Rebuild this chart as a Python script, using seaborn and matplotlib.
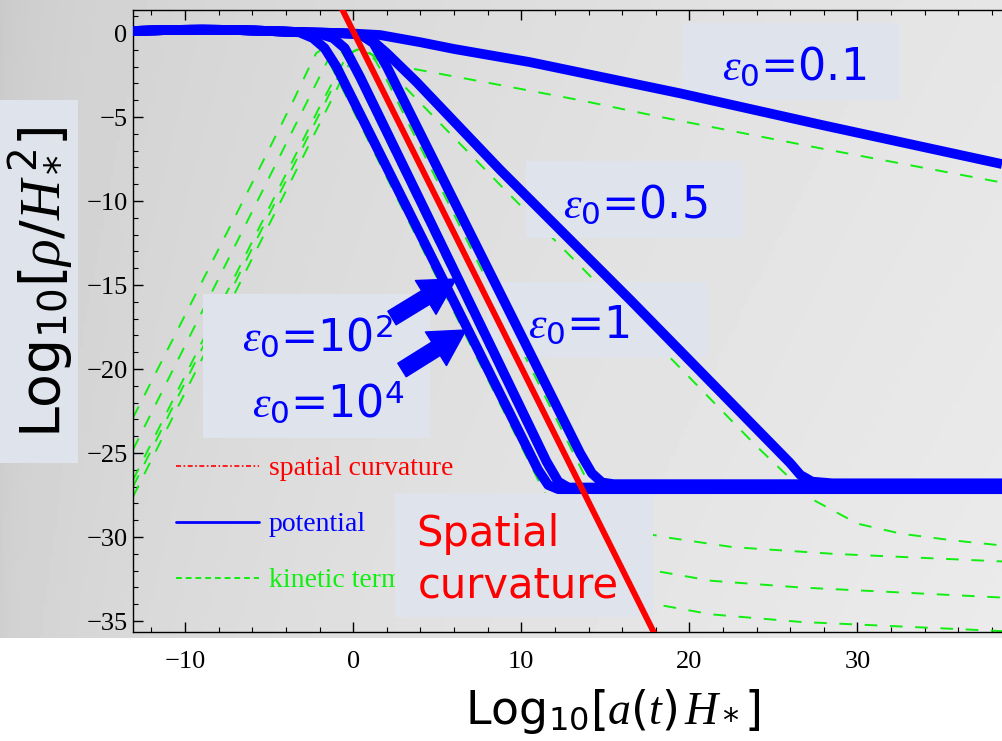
import numpy as np
import pandas as pd
import matplotlib
matplotlib.use("Agg")
import matplotlib.pyplot as plt
import seaborn as sns
from matplotlib.patches import Rectangle
from matplotlib.lines import Line2D
from matplotlib.ticker import MultipleLocator

# ---------------- data ----------------
# potential energy curves, Log10[rho/H*^2] vs Log10[a(t) H*]
POT_01_X = [-13.1, -11, -9, -7, -5, -3, -1, 0, 1.6, 4, 6, 10.5, 19.5, 28, 38.6]
POT_01_Y = [0.12, 0.18, 0.2, 0.18, 0.12, 0.05, 0.0, -0.03, -0.12, -0.55, -0.95, -1.73, -3.6, -5.5, -7.8]

POT_05_X = [-13.1, -11, -9, -7, -5, -3, -1, 0, 0.5, 1.2, 2, 3.75, 8.75, 16.5, 26.0, 26.6, 27.3, 28.5, 38.6]
POT_05_Y = [0.12, 0.18, 0.2, 0.18, 0.12, 0.05, 0.0, -0.05, -0.15, -0.5, -1.2, -2.9, -8.15, -15.9, -25.6, -26.3, -26.7, -26.8, -26.8]

POT_1_X = [-13.1, -11, -9, -7, -5, -3, -1, 0, 0.6, 1.2, 2, 3, 6, 10, 13.5, 14.2, 14.8, 15.5, 38.6]
POT_1_Y = [0.12, 0.18, 0.2, 0.18, 0.12, 0.05, 0.0, -0.05, -0.2, -0.6, -2.0, -4.0, -10, -18, -25, -26.2, -26.75, -26.85, -26.85]

POT_1E2_X = [-13.1, -11, -9, -7, -5, -3, -2, -1.2, -0.5, 0.4, 4, 8.3, 11.5, 12.2, 12.8, 38.6]
POT_1E2_Y = [0.12, 0.18, 0.2, 0.18, 0.12, 0.05, -0.05, -0.3, -0.9, -2.6, -10, -18.87, -25.5, -26.7, -27.05, -27.05]

POT_1E4_X = [-13.1, -11, -9, -7, -5, -3.2, -2.4, -1.7, -1, 0, 4, 8, 11, 11.6, 12.2, 38.6]
POT_1E4_Y = [0.12, 0.18, 0.2, 0.18, 0.12, 0.04, -0.3, -0.9, -2.0, -4, -12, -20, -26, -26.9, -27.15, -27.15]

# kinetic term curves
KIN_1E4_X = [-13.1, -6, -3.5, -2.6, -2.2, -1.9, -1.6, -1.2, 0, 5, 10, 11.3, 12.5, 13.5, 15, 18, 21.3, 26.6, 36.5, 38.6]
KIN_1E4_Y = [-22.9, -8.9, -3.9, -2.0, -1.2, -1.0, -1.4, -2.2, -4.6, -14.6, -24.6, -27.2, -29.8, -31.6, -33.2, -34.0, -34.6, -35.05, -35.5, -35.6]

KIN_1E2_X = [-13.1, -5, -2.5, -1.7, -1.3, -1.0, -0.7, -0.3, 0.5, 5, 10, 12.2, 13.5, 15, 17.9, 21.3, 26.6, 38.6]
KIN_1E2_Y = [-24.8, -8.6, -3.6, -2.0, -1.2, -0.95, -1.1, -1.7, -3.3, -12.6, -22.9, -27.4, -30.0, -31.4, -32.0, -32.6, -33.0, -33.6]

KIN_1_X = [-13.1, -5, -2, -1, -0.5, 0, 0.4, 0.8, 1.3, 2, 5, 10, 13.8, 15, 16.5, 18.5, 22.6, 28.6, 38.6]
KIN_1_Y = [-26.6, -10.4, -4.4, -2.5, -1.6, -1.1, -0.95, -1.1, -1.6, -2.8, -8.8, -18.8, -26.4, -28.6, -29.6, -30.0, -30.6, -31.0, -31.45]

KIN_05_X = [-13.1, -5, -2, -1, -0.4, 0, 0.4, 0.9, 2, 5, 8.75, 16.5, 24, 26.2, 27.4, 30, 32.6, 35.7, 38.6]
KIN_05_Y = [-27.0, -10.8, -4.8, -2.8, -1.7, -1.1, -0.9, -1.1, -2.1, -5.2, -9.05, -16.9, -24.6, -26.7, -27.8, -29.2, -29.8, -30.2, -30.5]

KIN_01_X = [-13.1, -5, -2, -1, -0.4, 0, 0.4, 0.9, 2, 3.4, 8.5, 13.5, 18.3, 28, 38.6]
KIN_01_Y = [-27.6, -11.4, -5.4, -3.4, -2.1, -1.5, -1.2, -1.2, -1.6, -2.1, -3.05, -4.0, -5.0, -6.9, -8.9]

# spatial curvature (slope -2)
CURV_X = [-1.0, 18.5]
CURV_Y = [2.1, -36.9]

X_TICKS = [-10, 0, 10, 20, 30]
Y_TICKS = [0, -5, -10, -15, -20, -25, -30, -35]
X_LIM = (-13.1, 38.6)
Y_LIM = (-35.65, 1.37)

LEGEND_LABELS = ["spatial curvature", "potential", "kinetic term"]

# ---------------- style ----------------
sns.set_theme(style="white")
plt.rcParams["font.family"] = ["DejaVu Sans"]
plt.rcParams["mathtext.fontset"] = "custom"
plt.rcParams["mathtext.rm"] = "DejaVu Sans"
plt.rcParams["mathtext.it"] = "Liberation Serif:italic"
plt.rcParams["mathtext.bf"] = "DejaVu Sans:bold"
plt.rcParams["axes.unicode_minus"] = True

W, H = 1002, 741
fig = plt.figure(figsize=(W / 100, H / 100), dpi=100)
fig.patch.set_facecolor("white")


def fx(px):
    return px / W


def fy(py):
    return 1 - py / H


# gray slide background with soft gradient
bg = fig.add_axes([0, fy(638), 1, 638 / H], zorder=-10)
uu, ww = np.meshgrid(np.linspace(0, 1, 300), np.linspace(1, 0, 200))
grad = 0.79 + 0.11 * np.sqrt(uu) + 0.02 * (1 - ww)
bg.imshow(grad, cmap="gray", vmin=0, vmax=1, aspect="auto", extent=[0, 1, 0, 1])
bg.axis("off")

ax = fig.add_axes([fx(133), fy(632), (W - 133) / W, (632 - 10) / H])
ax.patch.set_alpha(0)


def frame(xs, ys, name):
    return pd.DataFrame({"x": xs, "y": ys, "curve": name})


pot = pd.concat([
    frame(POT_01_X, POT_01_Y, "0.1"),
    frame(POT_05_X, POT_05_Y, "0.5"),
    frame(POT_1_X, POT_1_Y, "1"),
    frame(POT_1E2_X, POT_1E2_Y, "1e2"),
    frame(POT_1E4_X, POT_1E4_Y, "1e4"),
])
kin = pd.concat([
    frame(KIN_01_X, KIN_01_Y, "0.1"),
    frame(KIN_05_X, KIN_05_Y, "0.5"),
    frame(KIN_1_X, KIN_1_Y, "1"),
    frame(KIN_1E2_X, KIN_1E2_Y, "1e2"),
    frame(KIN_1E4_X, KIN_1E4_Y, "1e4"),
])
curv = frame(CURV_X, CURV_Y, "curv")

sns.lineplot(data=kin, x="x", y="y", units="curve", estimator=None, sort=False,
             color="#11ee11", lw=1.4, linestyle=(0, (6.5, 6.5)), ax=ax,
             legend=False, zorder=2)
sns.lineplot(data=pot, x="x", y="y", units="curve", estimator=None, sort=False,
             color="#0000ff", lw=7, ax=ax, legend=False, zorder=4,
             solid_joinstyle="round", solid_capstyle="butt")
sns.lineplot(data=curv, x="x", y="y", color="#ff0000", lw=4.3, ax=ax,
             legend=False, zorder=5, solid_capstyle="butt")

ax.set_xlim(*X_LIM)
ax.set_ylim(*Y_LIM)
ax.set_xticks(X_TICKS)
ax.set_yticks(Y_TICKS)
ax.xaxis.set_minor_locator(MultipleLocator(2))
ax.yaxis.set_minor_locator(MultipleLocator(1))
ax.tick_params(which="both", direction="in", top=True, bottom=True, left=True,
               right=False, color="black", labelcolor="black",
               labelfontfamily="Liberation Serif")
ax.tick_params(which="major", length=7, width=1)
ax.tick_params(which="minor", length=3.5, width=0.8)
ax.tick_params(axis="x", pad=14, labelsize=19)
ax.tick_params(axis="y", pad=4, labelsize=19)
for s in ["top", "left", "bottom"]:
    ax.spines[s].set_color("black")
    ax.spines[s].set_linewidth(1)
ax.spines["right"].set_visible(False)
ax.grid(False)

# axis labels
ax.set_xlabel(r"Log$_{10}$[$a(t)\,H_*$]", fontsize=33, color="black")
ax.xaxis.set_label_coords((613 - 133) / (W - 133), (632 - 712) / 622)
ax.xaxis.label.set_va("center")
ax.set_ylabel("")
ax.text(fx(40), fy(282), r"Log$_{10}$[$\rho/H_*^{\,2}$]", fontsize=40,
        color="black", rotation=90, ha="center", va="center",
        transform=fig.transFigure, zorder=6)

# annotation boxes (slide overlays)
BOX = "#dfe4ec"
boxes = [(0, 100, 78, 463), (682, 23, 899, 100), (526, 161, 743, 238),
         (487, 282, 707, 357), (203, 294, 430, 438), (395, 493, 653, 617)]
for (x0, y0, x1, y1) in boxes:
    r = Rectangle((fx(x0), fy(y1)), fx(x1) - fx(x0), fy(y0) - fy(y1),
                  transform=fig.transFigure, facecolor=BOX, edgecolor="none",
                  zorder=3.5, clip_on=False)
    ax.add_artist(r)

# in-plot legend (Mathematica style)
handles = [
    Line2D([], [], color="red", lw=1.2, linestyle=(0, (3, 1.5, 1, 1.5))),
    Line2D([], [], color="blue", lw=2),
    Line2D([], [], color="#11ee11", lw=1.4, linestyle=(0, (3, 2))),
]
leg = ax.legend(handles, LEGEND_LABELS, loc="upper left",
                bbox_to_anchor=(fx(176), fy(456)), bbox_transform=fig.transFigure,
                frameon=False, prop={"family": "Liberation Serif", "size": 20},
                handlelength=3.0, handletextpad=0.35, labelspacing=1.1,
                borderaxespad=0, borderpad=0)
for t, c in zip(leg.get_texts(), ["red", "blue", "#11ee11"]):
    t.set_color(c)
leg.set_zorder(3)

# epsilon labels
lab_kw = dict(color="#0000ff", fontsize=32, ha="left", va="baseline",
              transform=fig.transFigure, zorder=6)
ax.text(fx(722), fy(80), r"$\varepsilon_0$=0.1", **lab_kw)
ax.text(fx(563), fy(218), r"$\varepsilon_0$=0.5", **lab_kw)
ax.text(fx(528), fy(338), r"$\varepsilon_0$=1", **lab_kw)
ax.text(fx(242), fy(352), r"$\varepsilon_0$=10$^2$", **lab_kw)
ax.text(fx(252), fy(417), r"$\varepsilon_0$=10$^4$", **lab_kw)
ax.text(fx(416), fy(546), "Spatial", color="#ff0000", fontsize=30, ha="left",
        va="baseline", transform=fig.transFigure, zorder=6)
ax.text(fx(418), fy(597), "curvature", color="#ff0000", fontsize=30, ha="left",
        va="baseline", transform=fig.transFigure, zorder=6)

# arrows
arrow_kw = dict(arrowstyle="simple,head_length=0.85,head_width=0.95,tail_width=0.38",
                color="#0000ff", mutation_scale=30, shrinkA=0, shrinkB=0)
ax.annotate("", xy=(fx(456), fy(279)), xytext=(fx(392), fy(318)),
            xycoords="figure fraction", textcoords="figure fraction",
            arrowprops=arrow_kw, zorder=6)
ax.annotate("", xy=(fx(466), fy(330)), xytext=(fx(402), fy(370)),
            xycoords="figure fraction", textcoords="figure fraction",
            arrowprops=arrow_kw, zorder=6)

fig.savefig("out.png", dpi=100)
